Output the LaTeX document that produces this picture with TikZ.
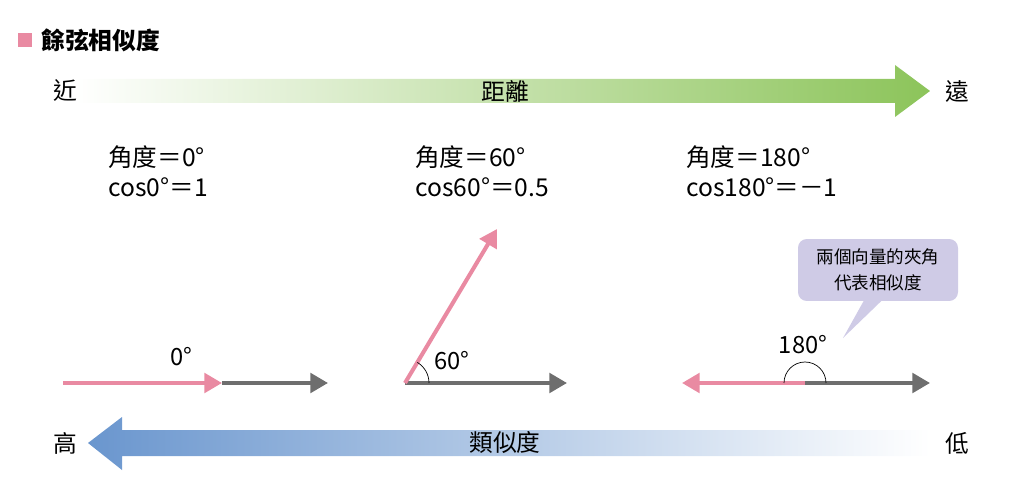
\documentclass[tikz,border=0pt]{standalone}
\usepackage{fontspec}
\setmainfont{Noto Sans CJK TC}
\usetikzlibrary{arrows.meta}

\definecolor{vecpink}{HTML}{E98AA2}
\definecolor{vecgray}{HTML}{6E6E6E}
\definecolor{distgreen}{HTML}{8CC45A}
\definecolor{simblue}{HTML}{6A96CE}
\definecolor{notepurple}{HTML}{CFCBE6}

\tikzset{
  vec/.style={line width=2.3pt, -{Triangle[length=10pt,width=11pt]}},
  lbl/.style={font=\fontsize{13.5}{16}\selectfont, inner sep=0pt},
  info/.style={font=\fontsize{14}{17}\selectfont, anchor=base west, inner sep=0pt},
  notebox/.style={fill=notepurple, rounded corners=5pt, minimum width=3.2cm,
    minimum height=1.24cm, align=center, font=\fontsize{10}{14.5}\selectfont},
}

\begin{document}
\begin{tikzpicture}[x=0.02cm,y=0.02cm]
  \useasboundingbox (0,0) rectangle (1020,-496);

  % title
  \fill[vecpink] (18,-33) rectangle (32,-47);
  \node[lbl, anchor=west, font=\bfseries\fontsize{13.5}{16}\selectfont] (title) at (41,-40) {餘弦相似度};

  % distance arrow
  \shade[left color=white, right color=distgreen]
    (75,-79) -- (895,-79) -- (895,-65) -- (930,-91) -- (895,-117) -- (895,-103) -- (75,-103) -- cycle;
  \node[lbl] (near) at (65,-91) {近};
  \node[lbl] (dist) at (505,-91) {距離};
  \node[lbl] (far) at (957,-91) {遠};

  % similarity arrow
  \shade[left color=simblue, right color=white]
    (930,-430) -- (122,-430) -- (122,-417) -- (88,-443) -- (122,-470) -- (122,-456) -- (930,-456) -- cycle;
  \node[lbl] (high) at (65,-443) {高};
  \node[lbl] (sim) at (505,-443) {類似度};
  \node[lbl] (low) at (957,-443) {低};

  % angle texts
  \node[info] (ang1) at (108,-167) {角度＝0°};
  \node[info] (cos1) at (108,-197) {cos0°＝1};
  \node[info] (ang2) at (415,-167) {角度＝60°};
  \node[info] (cos2) at (415,-197) {cos60°＝0.5};
  \node[info] (ang3) at (686,-167) {角度＝180°};
  \node[info] (cos3) at (686,-197) {cos180°＝－1};

  % 0 degrees
  \coordinate (o1) at (63,-383);
  \coordinate (m1) at (222,-383);
  \coordinate (e1) at (328,-383);
  \draw[vec, vecgray] (m1) -- (e1);
  \draw[vec, vecpink] (o1) -- (m1);
  \node[lbl] (a1) at (181,-357) {0°};

  % 60 degrees
  \coordinate (o2) at (405,-383);
  \coordinate (e2) at (567,-383);
  \coordinate (p2) at (497,-229);
  \draw[vec, vecgray] (o2) -- (e2);
  \draw[vec, vecpink] (o2) -- (p2);
  \draw[thin] ([shift={(24,0)}]o2) arc (0:59:24);
  \node[lbl] (a2) at (452,-361) {60°};

  % 180 degrees
  \coordinate (o3) at (805,-383);
  \coordinate (p3) at (682,-383);
  \coordinate (e3) at (930,-383);
  \draw[vec, vecgray] (o3) -- (e3);
  \draw[vec, vecpink] (o3) -- (p3);
  \draw[thin] ([shift={(21,0)}]o3) arc (0:180:21);
  \node[lbl] (a3) at (803,-345) {180°};

  % callout
  \node[notebox] (note) at (878,-270) {兩個向量的夾角\\代表相似度};
  \coordinate (tip) at (843,-338);
  \fill[notepurple] ([shift={(-14,1)}]note.south) -- (tip) -- ([shift={(4,1)}]note.south) -- cycle;
\end{tikzpicture}
\end{document}
